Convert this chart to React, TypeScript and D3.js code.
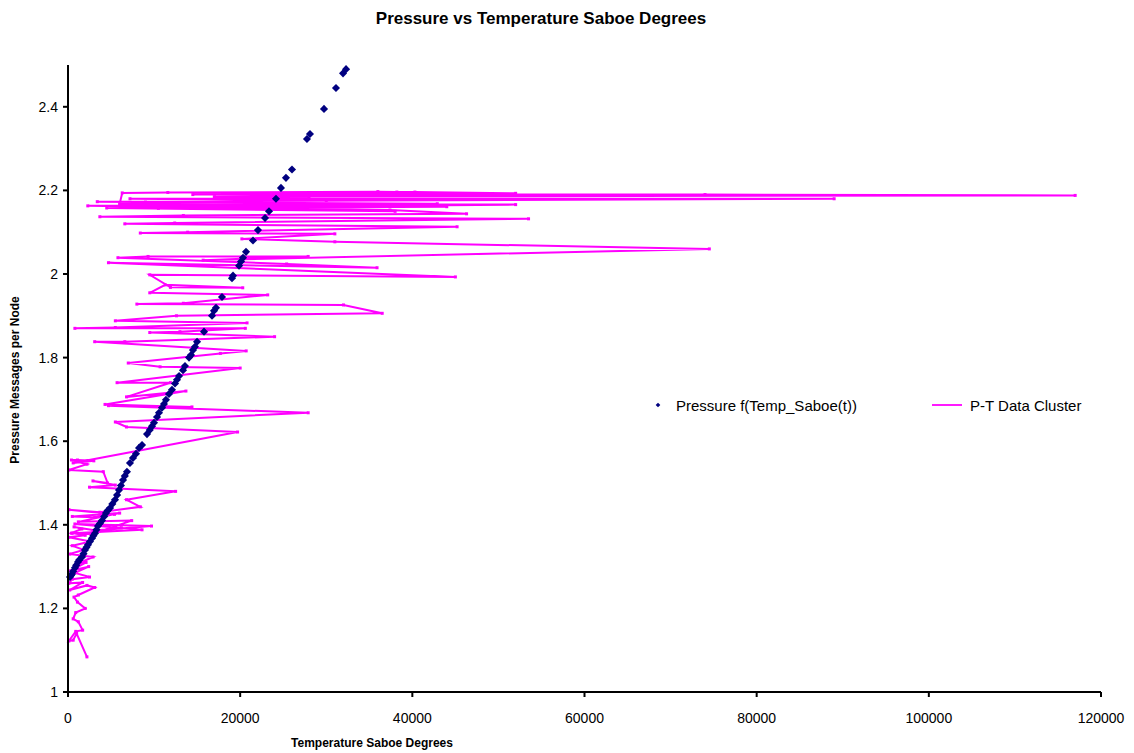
import React from "react";
import * as d3 from "d3";

const title = "Pressure vs Temperature Saboe Degrees";
const xTitle = "Temperature Saboe Degrees";
const yTitle = "Pressure Messages per Node";
const xTicks = [0, 20000, 40000, 60000, 80000, 100000, 120000];
const yTicks = [1, 1.2, 1.4, 1.6, 1.8, 2, 2.2, 2.4];
const seriesNames = ["Pressure f(Temp_Saboe(t))", "P-T Data Cluster"];

// Pressure f(Temp_Saboe(t)) : [temperature, pressure]
const pressureCurve: [number, number][] = [
  [230, 1.275], [350, 1.279], [460, 1.282], [600, 1.289], [810, 1.297], [950, 1.303],
  [1160, 1.311], [1300, 1.316], [1630, 1.323], [1800, 1.331], [1970, 1.34], [2150, 1.346],
  [2320, 1.352], [2550, 1.36], [2790, 1.368], [2950, 1.374], [3140, 1.38], [3300, 1.388],
  [3480, 1.397], [3700, 1.403], [3950, 1.41], [4200, 1.42], [4410, 1.428], [4600, 1.434],
  [4880, 1.44], [5150, 1.45], [5460, 1.46], [5700, 1.471], [5920, 1.483], [6150, 1.494],
  [6390, 1.507], [6600, 1.517], [6850, 1.527], [7200, 1.548], [7550, 1.56], [7900, 1.57],
  [8250, 1.584], [8600, 1.591], [9180, 1.617], [9500, 1.627], [9760, 1.636], [9990, 1.644],
  [10340, 1.658], [10570, 1.668], [10920, 1.68], [11150, 1.689], [11380, 1.699],
  [11730, 1.713], [12080, 1.723], [12430, 1.738], [12660, 1.747], [12900, 1.756],
  [13360, 1.77], [13590, 1.78], [14060, 1.8], [14290, 1.806], [14520, 1.818], [14750, 1.826],
  [14990, 1.838], [15800, 1.862], [16730, 1.9], [16960, 1.912], [17190, 1.919], [17890, 1.945],
  [19050, 1.99], [19170, 1.996], [19870, 2.02], [20100, 2.03], [20330, 2.039], [20680, 2.053],
  [21490, 2.08], [22070, 2.105], [22890, 2.134], [23350, 2.15], [24160, 2.18], [24740, 2.206],
  [25320, 2.23], [26020, 2.25], [27760, 2.323], [28110, 2.335], [29740, 2.395], [31130, 2.445],
  [31950, 2.48], [32300, 2.49],
];

// P-T Data Cluster, in drawing order : [temperature, pressure]
const clusterPath: [number, number][] = [
  [2200, 1.084], [1000, 1.14], [600, 1.124], [100, 1.122], [900, 1.145], [1700, 1.148],
  [1200, 1.168], [600, 1.175], [900, 1.19], [2000, 1.2], [1100, 1.215], [700, 1.227],
  [1200, 1.232], [3100, 1.25], [2200, 1.255], [200, 1.244], [1700, 1.262], [100, 1.26],
  [500, 1.27], [2500, 1.275], [800, 1.285], [2400, 1.3], [300, 1.29], [2100, 1.31],
  [900, 1.305], [2900, 1.323], [200, 1.33], [1800, 1.34], [500, 1.35], [2600, 1.36],
  [100, 1.37], [2000, 1.375], [400, 1.38],
  [1600, 1.39], [700, 1.395], [3600, 1.385], [6200, 1.393], [2900, 1.386], [9700, 1.397],
  [800, 1.402], [8600, 1.388], [500, 1.38], [2800, 1.378], [7400, 1.41], [1200, 1.407],
  [6000, 1.428], [500, 1.42], [3100, 1.418], [5400, 1.425], [100, 1.436], [3700, 1.43],
  [8400, 1.443], [6800, 1.46], [12500, 1.48], [2500, 1.49], [5500, 1.495], [2900, 1.505],
  [4600, 1.5], [4100, 1.527], [100, 1.531], [2200, 1.545], [400, 1.555], [1100, 1.555],
  [3000, 1.553], [600, 1.548],
  [19700, 1.622], [6800, 1.634], [5500, 1.646], [27900, 1.668], [4700, 1.685], [14400, 1.682],
  [4300, 1.688], [13700, 1.72], [6800, 1.706], [11900, 1.74], [5700, 1.74], [20000, 1.775],
  [10700, 1.778], [7000, 1.787], [17700, 1.81], [20700, 1.816], [3100, 1.838], [6600, 1.838],
  [24000, 1.85], [9500, 1.86], [13000, 1.862], [20600, 1.87], [800, 1.87], [5500, 1.872],
  [20800, 1.883], [5500, 1.888], [12600, 1.9], [36500, 1.906], [32000, 1.926], [8000, 1.928],
  [13400, 1.93], [23200, 1.95], [9500, 1.955], [11300, 1.974], [20300, 1.967], [11900, 1.968],
  [9500, 1.998], [45000, 1.993], [4700, 2.027], [35900, 2.015], [25400, 2.024], [5800, 2.039],
  [9300, 2.042], [27900, 2.042], [15700, 2.033], [74500, 2.06], [31000, 2.077], [20200, 2.084],
  [31000, 2.096], [8400, 2.098], [13900, 2.1], [45200, 2.113], [6600, 2.12], [12400, 2.122],
  [53500, 2.132], [3700, 2.137], [13400, 2.14], [46300, 2.144], [37400, 2.153], [2300, 2.163],
  [42900, 2.168], [3400, 2.173], [89000, 2.18], [7200, 2.18], [30000, 2.176], [9000, 2.172],
  [52000, 2.166], [4500, 2.158], [38000, 2.15], [10500, 2.157], [44000, 2.161], [6000, 2.168],
  [6300, 2.194], [11600, 2.195], [36000, 2.197], [38200, 2.196], [40300, 2.196], [52000, 2.193],
  [14500, 2.19], [74000, 2.19], [117000, 2.188], [17000, 2.185], [28000, 2.183],
];

const W = 1134;
const H = 753;
const left = 68;
const right = 1101;
const top = 65;
const bottom = 692;

export default function App() {
  const x = d3.scaleLinear().domain([0, 120000]).range([left, right]);
  const y = d3.scaleLinear().domain([1, 2.5]).range([bottom, top]);
  const line = d3
    .line<[number, number]>()
    .x((d) => x(d[0]))
    .y((d) => y(d[1]));
  const diamond = d3.symbol().type(d3.symbolDiamond2).size(42)() as string;
  const legendDiamond = d3.symbol().type(d3.symbolDiamond2).size(14)() as string;
  const font = "Liberation Sans, Arial, sans-serif";
  const pink = "#FF00FF";
  const navy = "#000080";
  const legendY = 405;

  return (
    <svg
      width={W}
      height={H}
      style={{ position: "absolute", left: 0, top: 0, background: "#fff" }}
      fontFamily={font}
    >
      <rect width={W} height={H} fill="#fff" />
      <text x={541} y={24} textAnchor="middle" fontSize={17} fontWeight="bold">
        {title}
      </text>

      {/* cluster line */}
      <path d={line(clusterPath) || ""} fill="none" stroke={pink} strokeWidth={2} />
      {clusterPath.map((d, i) => (
        <rect key={"c" + i} x={x(d[0]) - 1.5} y={y(d[1]) - 1.5} width={3} height={3} fill={pink} />
      ))}

      {/* pressure curve */}
      {pressureCurve.map((d, i) => (
        <path key={"p" + i} d={diamond} transform={`translate(${x(d[0])},${y(d[1])})`} fill={navy} />
      ))}

      {/* axes */}
      <line x1={left} x2={left} y1={top} y2={bottom} stroke="#000" strokeWidth={2} />
      <line x1={left} x2={right} y1={bottom} y2={bottom} stroke="#000" strokeWidth={2} />
      {yTicks.map((t) => (
        <g key={"y" + t}>
          <line x1={left - 5} x2={left} y1={y(t)} y2={y(t)} stroke="#000" strokeWidth={2} />
          <text x={left - 10} y={y(t) + 5} textAnchor="end" fontSize={14}>
            {String(t)}
          </text>
        </g>
      ))}
      {xTicks.map((t) => (
        <g key={"x" + t}>
          <line x1={x(t)} x2={x(t)} y1={bottom} y2={bottom + 5} stroke="#000" strokeWidth={2} />
          <text x={x(t)} y={bottom + 31} textAnchor="middle" fontSize={14}>
            {String(t)}
          </text>
        </g>
      ))}
      <text x={372} y={747} textAnchor="middle" fontSize={12} fontWeight="bold">
        {xTitle}
      </text>
      <text
        transform={`translate(19,380) rotate(-90)`}
        textAnchor="middle"
        fontSize={12}
        fontWeight="bold"
      >
        {yTitle}
      </text>

      {/* legend */}
      <path d={legendDiamond} transform={`translate(658,${legendY})`} fill={navy} />
      <text x={676} y={legendY + 6} fontSize={15}>
        {seriesNames[0]}
      </text>
      <line x1={932} x2={962} y1={legendY} y2={legendY} stroke={pink} strokeWidth={1.8} />
      <text x={970} y={legendY + 6} fontSize={15}>
        {seriesNames[1]}
      </text>
    </svg>
  );
}
